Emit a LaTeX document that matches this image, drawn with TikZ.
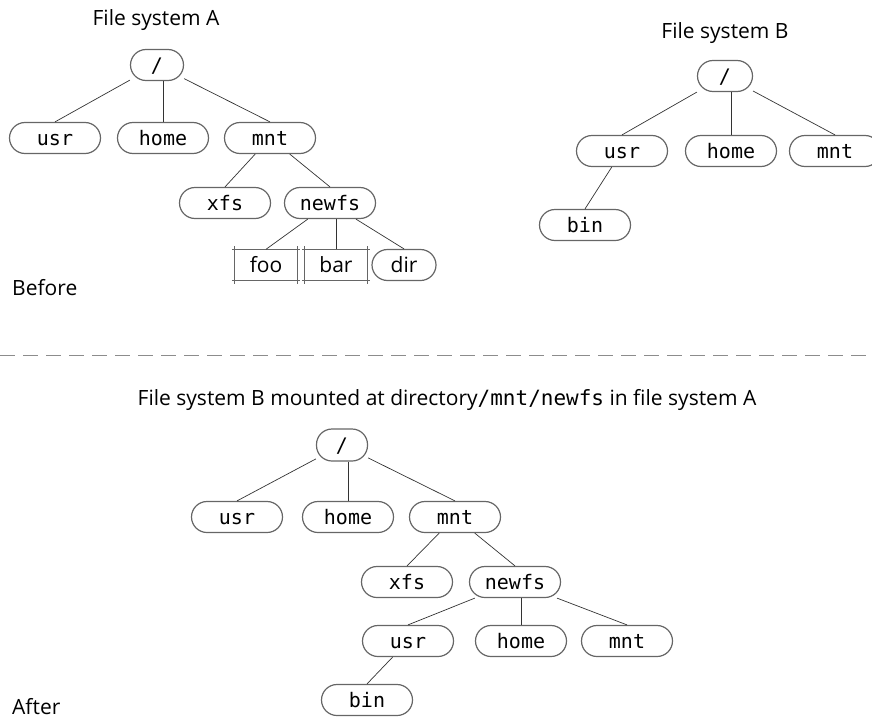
\documentclass[tikz,border=0pt]{standalone}
\usepackage{fontspec}
\setmainfont{Open Sans}
\setmonofont{DejaVu Sans Mono}
\begin{document}
\begin{tikzpicture}[x=1pt,y=-1pt,
  dirnode/.style={draw=black!60, line width=1.2pt, rounded corners=15.5pt,
    minimum width=91pt, minimum height=31pt, inner sep=0pt,
    text height=15pt, text depth=1pt,
    font=\fontsize{20}{22}\selectfont\ttfamily},
  rootnode/.style={dirnode, minimum width=53pt},
  filenode/.style={minimum width=62pt, minimum height=31pt, inner sep=0pt,
    text height=15pt, text depth=1pt, font=\fontsize{21}{23}\selectfont},
  boxline/.style={draw=black!60, line width=1.2pt},
  title/.style={font=\fontsize{21}{24}\selectfont, inner sep=0pt},
  edge/.style={draw=black!80, line width=0.7pt}
]
\useasboundingbox (0,0) rectangle (872,720);
\clip (0,0) rectangle (872,720);

% ---------- File system A ----------
\node[title] (tA) at (156,20) {File system A};
\node[rootnode] (Aroot) at (157,65) {/};
\node[dirnode] (Ausr) at (55,138) {usr};
\node[dirnode] (Ahome) at (163,138) {home};
\node[dirnode] (Amnt) at (270,138) {mnt};
\node[dirnode] (Axfs) at (225,203) {xfs};
\node[dirnode] (Anewfs) at (330,203) {newfs};
\node[filenode] (foo) at (266,265) {foo};
\node[filenode] (bar) at (336,265) {bar};
\node[dirnode, font=\fontsize{21}{23}\selectfont, minimum width=64pt] (dir) at (404,265) {dir};
\node[title, anchor=west] (before) at (12,288) {Before};

\foreach \n in {foo,bar} {
  \draw[boxline] ([xshift=-3pt]\n.north west) -- ([xshift=3pt]\n.north east);
  \draw[boxline] ([xshift=-3pt]\n.south west) -- ([xshift=3pt]\n.south east);
  \draw[boxline] ([yshift=3pt]\n.north west) -- ([yshift=-3pt]\n.south west);
  \draw[boxline] ([yshift=3pt]\n.north east) -- ([yshift=-3pt]\n.south east);
}

\draw[edge] (Aroot) -- (Ausr.north);
\draw[edge] (Ahome.north) -- (Ahome.north |- Aroot.south);
\draw[edge] (Aroot) -- (Amnt.north);
\draw[edge] (Amnt) -- (Axfs.north);
\draw[edge] (Amnt) -- (Anewfs.north);
\draw[edge] (Anewfs) -- (foo.north);
\draw[edge] (bar.north) -- (bar.north |- Anewfs.south);
\draw[edge] (Anewfs) -- (dir.north);

% ---------- File system B ----------
\node[title] (tB) at (725,33) {File system B};
\node[rootnode, minimum width=55pt] (Broot) at (725,76) {/};
\node[dirnode] (Busr) at (622,151) {usr};
\node[dirnode] (Bhome) at (731,151) {home};
\node[dirnode] (Bmnt) at (835,151) {mnt};
\node[dirnode] (Bbin) at (585,225) {bin};

\draw[edge] (Broot) -- (Busr.north);
\draw[edge] (Bhome.north) -- (Bhome.north |- Broot.south);
\draw[edge] (Broot) -- (Bmnt.north);
\draw[edge] (Busr) -- (Bbin.north);

% ---------- separator ----------
\coordinate (sepL) at (0,355);
\coordinate (sepR) at (872,355);
\draw[black!45, line width=1pt, dash pattern=on 15pt off 8pt] (sepL) -- (sepR);

% ---------- After ----------
\node[title] (tC) at (447,400) {File system B mounted at directory{\ttfamily/mnt/newfs} in file system A};
\node[rootnode, minimum width=51pt, minimum height=32pt] (Croot) at (342,445) {/};
\node[dirnode] (Cusr) at (237,517) {usr};
\node[dirnode] (Chome) at (348,517) {home};
\node[dirnode] (Cmnt) at (455,517) {mnt};
\node[dirnode] (Cxfs) at (407,582) {xfs};
\node[dirnode] (Cnewfs) at (515,582) {newfs};
\node[dirnode] (Cusr2) at (408,641) {usr};
\node[dirnode] (Chome2) at (521,641) {home};
\node[dirnode] (Cmnt2) at (627,641) {mnt};
\node[dirnode] (Cbin) at (367,700) {bin};
\node[title, anchor=west] (after) at (12,707) {After};

\draw[edge] (Croot) -- (Cusr.north);
\draw[edge] (Chome.north) -- (Chome.north |- Croot.south);
\draw[edge] (Croot) -- (Cmnt.north);
\draw[edge] (Cmnt) -- (Cxfs.north);
\draw[edge] (Cmnt) -- (Cnewfs.north);
\draw[edge] (Cnewfs) -- (Cusr2.north);
\draw[edge] (Chome2.north) -- (Chome2.north |- Cnewfs.south);
\draw[edge] (Cnewfs) -- (Cmnt2.north);
\draw[edge] (Cusr2) -- (Cbin.north);
\end{tikzpicture}
\end{document}
